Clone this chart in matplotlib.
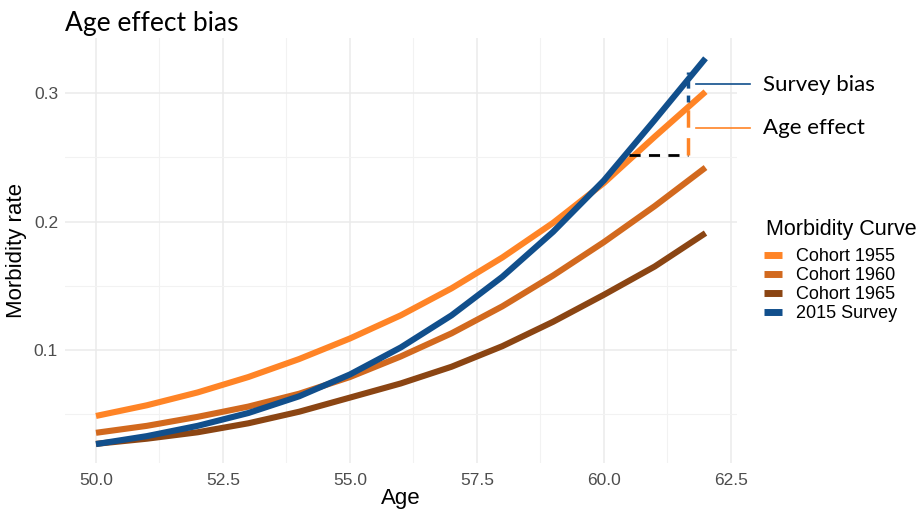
import matplotlib
matplotlib.use("Agg")
import matplotlib.pyplot as plt
import numpy as np

# ages and morbidity rates
ages = np.array([50, 51, 52, 53, 54, 55, 56, 57, 58, 59, 60, 61, 62])
cohort_1955 = np.array([0.0487, 0.057, 0.067, 0.079, 0.093, 0.109, 0.127,
                        0.148, 0.172, 0.199, 0.230, 0.266, 0.301])
cohort_1960 = np.array([0.0356, 0.041, 0.048, 0.056, 0.066, 0.079, 0.095,
                        0.113, 0.134, 0.158, 0.184, 0.212, 0.242])
cohort_1965 = np.array([0.027, 0.031, 0.036, 0.043, 0.052, 0.063, 0.074,
                        0.087, 0.103, 0.122, 0.143, 0.165, 0.191])
survey_2015 = np.array([0.0268, 0.033, 0.041, 0.051, 0.064, 0.081, 0.102,
                        0.127, 0.157, 0.192, 0.232, 0.279, 0.327])

series_labels = ["Cohort 1955", "Cohort 1960", "Cohort 1965", "2015 Survey"]
series_colors = ["#ff8426", "#d2691e", "#8b4513", "#114f8c"]

# annotation values (age of the marker, and rates at the three levels)
mark_age = 61.65
base_age = 60.5
base_rate = 0.252
age_effect_rate = 0.293
survey_rate = 0.316

fig = plt.figure(figsize=(9.24, 5.09), dpi=100)
ax = fig.add_axes([65 / 924, 1 - 463 / 509, 672 / 924, 425 / 509])

# grid like ggplot theme_minimal
ax.set_xticks([50, 52.5, 55, 57.5, 60, 62.5])
ax.set_xticks([51.25, 53.75, 56.25, 58.75, 61.25], minor=True)
ax.set_yticks([0.1, 0.2, 0.3])
ax.set_yticks([0.05, 0.15, 0.25], minor=True)
ax.set_xticklabels(["50.0", "52.5", "55.0", "57.5", "60.0", "62.5"])
ax.grid(which="major", color="#ebebeb", linewidth=1.1)
ax.grid(which="minor", color="#f2f2f2", linewidth=0.8)
ax.set_axisbelow(True)
for s in ax.spines.values():
    s.set_visible(False)
ax.tick_params(which="both", length=0)
ax.tick_params(axis="x", pad=7, labelsize=12.5, labelcolor="#4d4d4d")
ax.tick_params(axis="y", pad=5, labelsize=12.5, labelcolor="#4d4d4d")
for lab in ax.get_xticklabels() + ax.get_yticklabels():
    lab.set_family("Liberation Sans")

series = [cohort_1955, cohort_1960, cohort_1965, survey_2015]
handles = []
for vals, lab, col in zip(series, series_labels, series_colors):
    h, = ax.plot(ages, vals, color=col, linewidth=4.4, label=lab,
                 solid_capstyle="butt")
    handles.append(h)

ax.set_xlim(49.39, 62.62)
ax.set_ylim(0.0121, 0.3428)

# dashed markers for the age effect / survey bias
ax.plot([base_age, mark_age], [base_rate, base_rate], color="black",
        linewidth=2, dashes=(4, 3))
ax.plot([mark_age, mark_age], [base_rate, age_effect_rate], color="#ff8426",
        linewidth=2.5, dashes=(5, 3))
ax.plot([mark_age, mark_age], [age_effect_rate, survey_rate], color="#114f8c",
        linewidth=2.5, dashes=(2, 2))

# callout lines and text
ax.plot([61.82, 62.87], [0.307, 0.307], color="#114f8c", linewidth=1.2,
        clip_on=False)
ax.plot([61.82, 62.87], [0.2728, 0.2728], color="#ff8426", linewidth=1.2,
        clip_on=False)
fig.text(763 / 924, 1 - 85 / 509, "Survey bias", fontsize=16,
         family="Lato", va="center", ha="left")
fig.text(763 / 924, 1 - 128 / 509, "Age effect", fontsize=16,
         family="Lato", va="center", ha="left")

ax.set_xlabel("Age", fontsize=16, family="Liberation Sans", labelpad=0)
ax.set_ylabel("Morbidity rate", fontsize=16, family="Liberation Sans",
              labelpad=5)
fig.text(65 / 924, 1 - 23 / 509, "Age effect bias", fontsize=19,
         family="Lato", va="center", ha="left")

fig.text(766 / 924, 1 - 229 / 509, "Morbidity Curve", fontsize=15.5,
         family="Liberation Sans", va="center", ha="left")
leg = fig.legend(handles=handles, labels=series_labels, loc="upper left",
                 bbox_to_anchor=(764 / 924, 1 - 248 / 509), frameon=False,
                 handlelength=1.0, handleheight=0.7, handletextpad=0.8,
                 labelspacing=0.12, borderaxespad=0, borderpad=0,
                 prop={"family": "Liberation Sans", "size": 13})
for h in leg.legend_handles:
    h.set_linewidth(5)

fig.savefig("out.png", dpi=100)
